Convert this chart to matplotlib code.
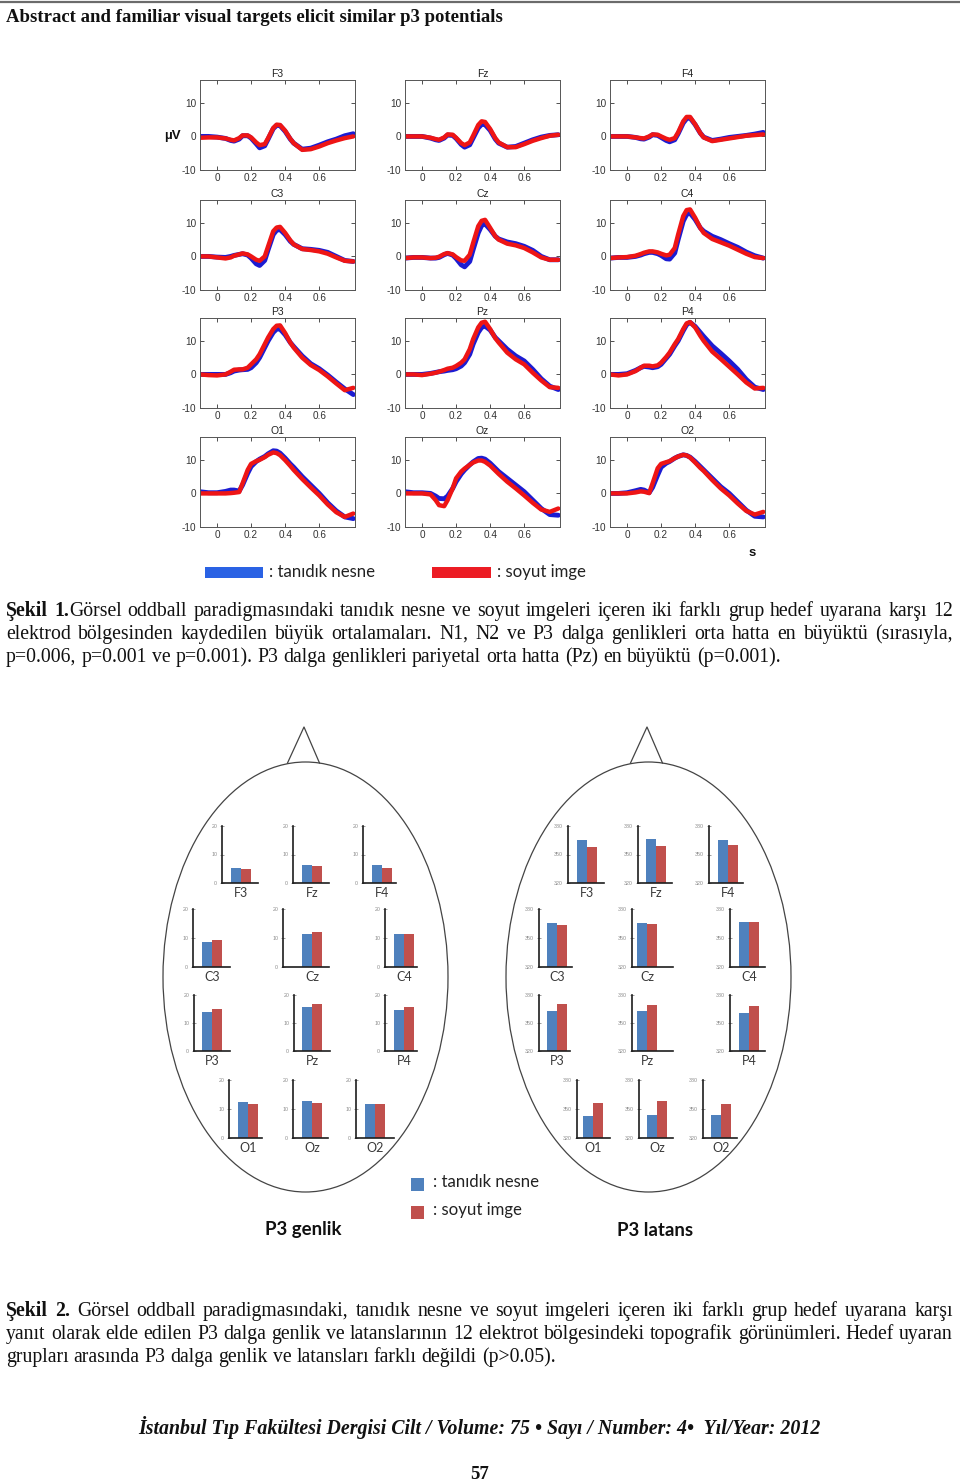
import matplotlib
matplotlib.use('Agg')
import matplotlib.pyplot as plt
from matplotlib.patches import Ellipse, Rectangle

plt.rcParams['font.family'] = ['Liberation Sans', 'DejaVu Sans']
plt.rcParams['axes.unicode_minus'] = False

# ------------------------------------------------------------------ data
times = [-0.1, -0.05, 0.0, 0.05, 0.08, 0.1, 0.13, 0.15, 0.18, 0.2, 0.23, 0.25, 0.28,
         0.3, 0.33, 0.35, 0.37, 0.4, 0.43, 0.45, 0.5, 0.55, 0.6, 0.65, 0.7, 0.75, 0.8]

F3_fam = [0, 0, -0.2, -0.6, -1.2, -1.4, -0.8, 0.2, 0.2, -0.5, -2.2, -3.4, -2.8, -0.8, 2.3, 3.3, 3.2, 1.5, -0.8, -2.0, -3.8, -3.5, -2.6, -1.6, -0.8, 0.2, 0.8]
F3_abs = [-0.4, -0.3, -0.3, -0.6, -1.0, -1.2, -0.5, 0.3, 0.3, -0.3, -1.8, -2.6, -2.3, -0.5, 2.5, 3.5, 3.4, 1.7, -0.7, -2.0, -4.0, -3.8, -3.0, -2.0, -1.2, -0.5, 0.0]
Fz_fam = [0, 0, 0, -0.5, -1.0, -1.2, -0.5, 0.4, 0.3, -0.6, -2.4, -3.2, -2.5, -0.5, 2.5, 3.6, 3.5, 1.8, -0.8, -2.0, -3.2, -3.0, -2.0, -1.0, -0.2, 0.3, 0.5]
Fz_abs = [0, 0, 0, -0.4, -0.8, -1.0, -0.3, 0.6, 0.5, -0.4, -2.0, -2.6, -1.8, 0.2, 3.4, 4.5, 4.3, 2.2, -0.5, -1.8, -3.2, -3.2, -2.3, -1.3, -0.5, 0.2, 0.5]
F4_fam = [0, 0, 0, -0.3, -0.7, -0.8, -0.2, 0.5, 0.3, -0.3, -1.2, -1.6, -1.0, 0.8, 4.0, 5.3, 5.5, 3.5, 1.0, -0.2, -1.2, -0.8, -0.3, 0.0, 0.3, 0.7, 1.2]
F4_abs = [0, 0, 0, -0.3, -0.5, -0.6, 0.0, 0.6, 0.5, 0.0, -0.7, -1.0, -0.5, 1.2, 4.5, 5.8, 5.8, 3.6, 1.0, -0.3, -1.4, -1.0, -0.6, -0.2, 0.2, 0.4, 0.6]
C3_fam = [0, 0, -0.2, -0.3, 0.0, 0.3, 0.6, 0.8, 0.4, -0.5, -2.2, -2.7, -1.2, 2.0, 6.5, 7.8, 8.0, 6.5, 4.5, 3.6, 2.3, 2.1, 1.8, 1.2, 0.0, -1.2, -1.5]
C3_abs = [0, 0, -0.3, -0.6, -0.3, 0.2, 0.6, 0.9, 0.6, 0.0, -1.0, -1.3, 0.0, 3.0, 7.5, 8.6, 8.8, 7.0, 4.8, 3.6, 2.2, 1.9, 1.5, 0.8, -0.3, -1.3, -1.5]
Cz_fam = [-0.5, -0.3, -0.3, -0.5, -0.5, -0.3, 0.5, 0.9, 0.4, -0.6, -2.5, -3.1, -1.5, 2.0, 7.0, 9.2, 9.7, 8.0, 6.0, 5.2, 4.3, 3.8, 3.0, 1.8, 0.0, -1.0, -1.0]
Cz_abs = [-0.5, -0.3, -0.3, -0.5, -0.4, -0.1, 0.7, 1.0, 0.6, -0.2, -1.2, -1.3, 0.5, 4.0, 9.0, 10.6, 10.9, 8.5, 6.0, 5.0, 3.8, 3.3, 2.5, 1.2, -0.3, -1.0, -1.0]
C4_fam = [-0.5, -0.3, -0.3, 0.0, 0.4, 0.8, 1.2, 1.2, 0.8, 0.3, -0.7, -0.8, 1.0, 5.0, 10.5, 12.5, 12.9, 11.0, 8.5, 7.5, 6.0, 5.0, 3.8, 2.7, 1.3, 0.2, -0.5]
C4_abs = [-0.5, -0.3, -0.2, 0.2, 0.7, 1.1, 1.5, 1.5, 1.2, 0.8, 0.3, 0.5, 2.5, 6.5, 12.0, 13.8, 14.0, 11.5, 8.5, 7.0, 5.2, 4.2, 3.2, 2.0, 0.8, -0.2, -0.5]
P3_fam = [0, 0, 0, 0, 0.5, 1.0, 1.3, 1.4, 1.5, 2.0, 3.5, 5.0, 8.0, 10.0, 12.5, 13.5, 13.5, 11.8, 9.5, 8.3, 5.5, 3.2, 1.7, -0.2, -2.3, -4.3, -6.0]
P3_abs = [0, -0.2, -0.3, 0, 0.8, 1.4, 1.5, 1.5, 2.0, 3.0, 4.5, 6.0, 9.0, 11.0, 13.5, 14.5, 14.6, 12.3, 9.5, 8.0, 5.0, 2.8, 1.3, -0.6, -2.7, -4.7, -4.0]
Pz_fam = [0, 0, 0, 0.3, 0.6, 0.8, 1.0, 1.2, 1.4, 1.7, 2.5, 3.5, 6.0, 9.0, 12.5, 14.0, 14.4, 13.2, 11.0, 10.0, 7.5, 5.5, 4.0, 1.5, -1.3, -3.5, -4.5]
Pz_abs = [0, 0, -0.2, 0.2, 0.5, 0.8, 1.3, 1.7, 2.0, 2.5, 3.5, 4.5, 7.5, 10.5, 14.0, 15.4, 15.7, 13.5, 10.8, 9.5, 6.5, 4.5, 3.0, 0.5, -1.8, -3.8, -4.0]
P4_fam = [0, 0, 0.2, 1.2, 2.0, 2.4, 2.2, 2.0, 2.3, 3.0, 4.8, 6.0, 8.5, 10.0, 13.0, 14.8, 15.5, 14.3, 12.5, 11.3, 8.5, 6.3, 4.0, 1.5, -1.5, -3.8, -4.5]
P4_abs = [0, -0.3, 0, 1.0, 2.0, 2.6, 2.6, 2.4, 2.7, 3.5, 5.2, 6.5, 9.0, 10.5, 13.5, 15.2, 15.6, 14.0, 11.5, 10.0, 6.8, 4.6, 2.3, 0.0, -2.4, -4.2, -4.0]
O1_fam = [0.5, 0.2, 0.2, 0.6, 1.0, 1.0, 0.7, 2.5, 6.0, 8.0, 9.5, 10.2, 11.0, 11.8, 12.7, 12.6, 12.0, 10.5, 8.8, 7.8, 5.0, 2.5, 0.0, -2.8, -5.2, -7.0, -7.5]
O1_abs = [0, 0, 0, 0, 0.1, 0.2, 0.4, 3.0, 7.0, 8.8, 9.6, 10.0, 10.8, 11.5, 12.2, 12.0, 11.4, 9.9, 8.2, 7.0, 4.3, 1.8, -0.6, -3.3, -5.6, -7.0, -6.0]
Oz_fam = [0.5, 0.2, 0.2, 0, -0.8, -1.5, -1.6, -0.8, 1.5, 3.5, 5.8, 7.0, 8.5, 9.4, 10.4, 10.5, 10.2, 9.0, 7.5, 6.5, 4.5, 2.5, 0.5, -2.0, -4.5, -6.3, -6.5]
Oz_abs = [0, 0, 0, -0.3, -2.0, -3.5, -3.8, -2.0, 1.5, 4.5, 6.5, 7.4, 8.5, 9.2, 9.8, 9.8, 9.4, 8.3, 6.8, 5.8, 3.5, 1.5, -0.6, -2.8, -4.8, -5.5, -4.5]
O2_fam = [0, 0, 0.2, 0.8, 1.2, 1.0, 0.2, 1.8, 5.5, 7.8, 9.0, 9.5, 10.5, 11.0, 11.5, 11.3, 10.8, 9.5, 8.0, 7.0, 4.5, 2.0, 0.0, -2.5, -5.0, -6.8, -7.0]
O2_abs = [0, 0, 0, 0.3, 0.6, 0.5, 0.1, 3.0, 7.5, 8.8, 9.3, 9.6, 10.5, 11.0, 11.5, 11.3, 10.7, 9.2, 7.6, 6.7, 4.0, 1.5, -0.6, -3.0, -5.2, -6.3, -5.5]

channels = ['F3', 'Fz', 'F4', 'C3', 'Cz', 'C4', 'P3', 'Pz', 'P4', 'O1', 'Oz', 'O2']
erp_familiar = [F3_fam, Fz_fam, F4_fam, C3_fam, Cz_fam, C4_fam, P3_fam, Pz_fam, P4_fam, O1_fam, Oz_fam, O2_fam]
erp_abstract = [F3_abs, Fz_abs, F4_abs, C3_abs, Cz_abs, C4_abs, P3_abs, Pz_abs, P4_abs, O1_abs, Oz_abs, O2_abs]

erp_xticks = [0, 0.2, 0.4, 0.6]
erp_xticklabels = ['0', '0.2', '0.4', '0.6']
erp_yticks = [-10, 0, 10]
erp_yticklabels = ['-10', '0', '10']

# P3 amplitude (µV) and latency (ms) per electrode
amp_familiar = [5.1, 6.4, 6.3, 8.7, 11.4, 11.3, 13.9, 15.7, 14.6, 12.4, 12.8, 11.7]
amp_abstract = [4.8, 5.8, 5.2, 9.3, 11.9, 11.3, 15.0, 16.8, 15.7, 11.8, 12.1, 11.7]
lat_familiar = [365.3, 365.8, 365.4, 366.0, 365.3, 366.4, 362.4, 362.4, 361.0, 342.9, 344.3, 344.3]
lat_abstract = [357.9, 358.8, 359.9, 363.3, 364.7, 366.4, 370.1, 369.8, 368.0, 355.7, 358.5, 355.4]
amp_yticks = [0, 10, 20]
lat_yticks = [320, 350, 380]

legend_labels = [': tanıdık nesne', ': soyut imge']

# ------------------------------------------------------------------ figure
W, H = 960, 1482
fig = plt.figure(figsize=(W / 100, H / 100), dpi=100)
bg = fig.add_axes([0, 0, 1, 1])
bg.set_xlim(0, W)
bg.set_ylim(H, 0)
bg.axis('off')
R = fig.canvas.get_renderer()

SERIF = ['Liberation Serif', 'DejaVu Serif']
CAL = ['Lato', 'DejaVu Sans']


def px_axes(x0, y0, x1, y1):
    return fig.add_axes([x0 / W, 1 - y1 / H, (x1 - x0) / W, (y1 - y0) / H])


# top rule + header
bg.plot([0, W], [2, 2], color='#6b6b6b', lw=1.6, solid_capstyle='butt')
bg.text(6, 22, 'Abstract and familiar visual targets elicit similar p3 potentials',
        family=SERIF, fontweight='bold', fontsize=13.5, ha='left', va='baseline', color='#111')

# ------------------------------------------------------------------ ERP grid
erp_cols_x = [200, 405, 610]
erp_rows_top = [80, 200, 318, 437]
ERP_W, ERP_H = 155, 90
BLUE_LINE = '#1c1cd2'
RED_LINE = '#ee1515'

for i, ch in enumerate(channels):
    r, c = divmod(i, 3)
    x0 = erp_cols_x[c]
    y0 = erp_rows_top[r]
    ax = px_axes(x0, y0, x0 + ERP_W, y0 + ERP_H)
    ax.plot(times, erp_familiar[i], color=BLUE_LINE, lw=3.5, solid_joinstyle='round', solid_capstyle='round')
    ax.plot(times, erp_abstract[i], color=RED_LINE, lw=3.2, solid_joinstyle='round', solid_capstyle='round')
    ax.set_xlim(-0.1, 0.81)
    ax.set_ylim(-10, 16.8)
    ax.set_xticks(erp_xticks)
    ax.set_xticklabels(erp_xticklabels)
    ax.set_yticks(erp_yticks)
    ax.set_yticklabels(erp_yticklabels)
    ax.tick_params(direction='in', top=True, right=True, length=3, width=0.6,
                   labelsize=7.2, colors='#333333', pad=2.5)
    for s in ax.spines.values():
        s.set_color('#555555')
        s.set_linewidth(0.7)
    ax.set_title(ch, fontsize=7.5, color='#222222', pad=2)

bg.text(172, 136, 'µV', fontsize=9.5, fontweight='bold', ha='center', va='center', color='#111')
bg.text(752, 553, 's', fontsize=9.5, fontweight='bold', ha='center', va='center', color='#111')

# ERP legend
bg.add_patch(Rectangle((205, 567), 58, 11, color='#2a62e4', lw=0))
bg.add_patch(Rectangle((432, 567), 59, 11, color='#ec1c24', lw=0))
bg.text(269, 572, legend_labels[0], family=CAL, fontsize=12.1, ha='left', va='center', color='#222')
bg.text(497, 572, legend_labels[1], family=CAL, fontsize=12.1, ha='left', va='center', color='#222')


# ------------------------------------------------------------------ justified captions
def measure(s, weight, size, style='normal'):
    t = bg.text(0, 0, s, fontsize=size, fontweight=weight, family=SERIF, fontstyle=style)
    w = t.get_window_extent(renderer=R).width
    t.remove()
    return w


def parse(line):
    words = []
    bold = False
    for w in line.split(' '):
        parts = []
        pieces = w.split('**')
        for k, p in enumerate(pieces):
            if k > 0:
                bold = not bold
            if p:
                parts.append((p, bold))
        words.append(parts)
    return words


def draw_line(line, y, size, x0=6, x1=953, justify=True):
    words = parse(line)
    widths = [[measure(p, 'bold' if b else 'normal', size) for p, b in wd] for wd in words]
    tot = sum(sum(w) for w in widths)
    space = measure('a a', 'normal', size) - measure('aa', 'normal', size)
    gap = (x1 - x0 - tot) / (len(words) - 1) if justify else space
    x = x0
    for wd, ws in zip(words, widths):
        for (p, b), w in zip(wd, ws):
            bg.text(x, y, p, fontsize=size, fontweight='bold' if b else 'normal', family=SERIF,
                    ha='left', va='baseline', color='#111')
            x += w
        x += gap


CAP_SIZE = 14.2
cap1 = ['**Şekil 1.**Görsel oddball paradigmasındaki tanıdık nesne ve soyut imgeleri içeren iki farklı grup hedef uyarana karşı 12',
        'elektrod bölgesinden kaydedilen büyük ortalamaları. N1, N2 ve P3 dalga genlikleri orta hatta en büyüktü (sırasıyla,',
        'p=0.006, p=0.001 ve p=0.001). P3 dalga genlikleri pariyetal orta hatta (Pz) en büyüktü (p=0.001).']
for k, ln in enumerate(cap1):
    draw_line(ln, 616 + 23 * k, CAP_SIZE, justify=(k < 2))

cap2 = ['**Şekil 2.** Görsel oddball paradigmasındaki, tanıdık nesne ve soyut imgeleri içeren iki farklı grup hedef uyarana karşı',
        'yanıt olarak elde edilen P3 dalga genlik ve latanslarının 12 elektrot bölgesindeki topografik görünümleri. Hedef uyaran',
        'grupları arasında P3 dalga genlik ve latansları farklı değildi (p>0.05).']
for k, ln in enumerate(cap2):
    draw_line(ln, 1316 + 23 * k, CAP_SIZE, justify=(k < 2))

# ------------------------------------------------------------------ heads
HEAD_C = '#444444'
for cx in (305.5, 648.5):
    bg.add_patch(Ellipse((cx, 977), 285, 430, fill=False, ec=HEAD_C, lw=0.9))
    bg.plot([cx - 18, cx - 1.5, cx + 14], [763, 727, 763], color=HEAD_C, lw=0.9)

BAR_BLUE = '#4f81bd'
BAR_RED = '#c0504d'

# (spine x, first bar x, axis end x, top y, bottom y)
amp_layout = [(222, 231, 258, 826, 883), (293, 302, 329, 826, 883), (363, 372, 396, 826, 883),
              (193, 202, 230, 909, 967), (283, 302, 329, 909, 967), (385, 394, 417, 909, 967),
              (194, 202, 230, 995, 1051), (294, 302, 330, 995, 1051), (385, 394, 417, 995, 1051),
              (229, 238, 262, 1080, 1138), (293, 302, 328, 1080, 1138), (356, 365, 394, 1080, 1138)]
lat_layout = [(568, 577, 604, 826, 883), (638, 646, 672, 826, 883), (709, 718, 743, 826, 883),
              (539, 547, 572, 909, 967), (632, 637, 673, 909, 967), (730, 739, 765, 909, 967),
              (539, 547, 570, 995, 1051), (632, 637, 673, 995, 1051), (730, 739, 765, 995, 1051),
              (577, 583, 610, 1080, 1138), (639, 647, 673, 1080, 1138), (703, 711, 737, 1080, 1138)]


def bar_panel(lay, fam, ab, ylim, yticks, label):
    sx, bx, ex, top, bot = lay
    ax = px_axes(sx, top, ex, bot)
    ax.patch.set_alpha(0)
    unit = 10.0
    ax.bar([0.5, 1.5], [fam, ab], width=1.0, color=[BAR_BLUE, BAR_RED], bottom=0)
    ax.set_xlim(-(bx - sx) / unit, (ex - bx) / unit)
    ax.set_ylim(*ylim)
    ax.set_yticks(yticks)
    ax.set_xticks([])
    for s in ('top', 'right'):
        ax.spines[s].set_visible(False)
    for s in ('left', 'bottom'):
        ax.spines[s].set_color('#1e1e1e')
        ax.spines[s].set_linewidth(1.2)
    ax.tick_params(axis='y', direction='inout', length=3, width=0.6, labelsize=3.8,
                   colors='#8a8a8a', pad=2)
    ax.annotate(label, xy=(1.0, 0), xycoords=('data', 'axes fraction'), xytext=(0, -7.5),
                textcoords='offset points', ha='center', va='center', fontsize=9,
                family=CAL, color='#3a3a3a')


for i, ch in enumerate(channels):
    bar_panel(amp_layout[i], amp_familiar[i], amp_abstract[i], (0, 20), amp_yticks, ch)
    bar_panel(lat_layout[i], lat_familiar[i], lat_abstract[i], (320, 380), lat_yticks, ch)

# bottom legend
bg.add_patch(Rectangle((410.5, 1177.5), 13, 13, color=BAR_BLUE, lw=0))
bg.add_patch(Rectangle((410.5, 1206), 13, 13, color=BAR_RED, lw=0))
bg.text(433, 1182, legend_labels[0], family=CAL, fontsize=12.1, ha='left', va='center', color='#222')
bg.text(433, 1210, legend_labels[1], family=CAL, fontsize=12.1, ha='left', va='center', color='#222')
bg.text(303, 1230, 'P3 genlik', family=CAL, fontsize=13.4, fontweight='bold', ha='center', va='center', color='#111')
bg.text(655, 1230, 'P3 latans', family=CAL, fontsize=13.4, fontweight='bold', ha='center', va='center', color='#111')

# footer
bg.text(479, 1434, 'İstanbul Tıp Fakültesi Dergisi Cilt / Volume: 75 • Sayı / Number: 4•  Yıl/Year: 2012',
        family=SERIF, fontsize=14.3, fontweight='bold', fontstyle='italic', ha='center', va='baseline', color='#111')
bg.text(480, 1479, '57', family=SERIF, fontsize=13.5, fontweight='bold', ha='center', va='baseline', color='#111')

fig.savefig('out.png', dpi=100)
